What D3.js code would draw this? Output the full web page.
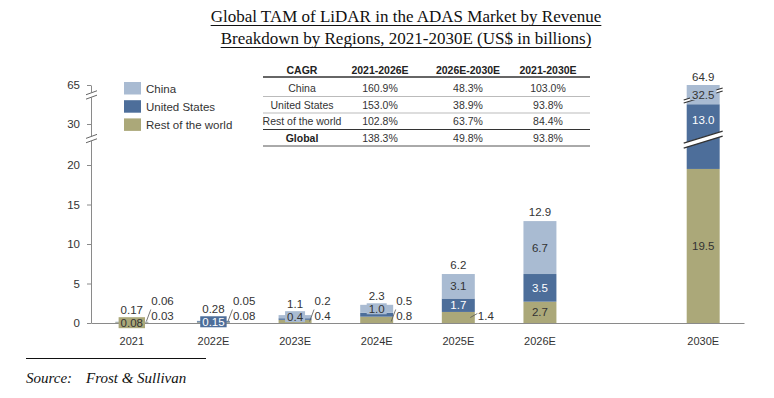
<!DOCTYPE html>
<html>
<head>
<meta charset="utf-8">
<script src="https://cdn.jsdelivr.net/npm/d3@7"></script>
<style>
body{margin:0;background:#fff;}
text{font-family:"Liberation Sans",Arial,sans-serif;fill:#333;}
</style>
</head>
<body>
<div id="chart-area"></div>
<script>
var years = ["2021","2022E","2023E","2024E","2025E","2026E","2030E"];
var china = [0.06,0.05,0.4,1.0,3.1,6.7,32.5];
var unitedStates = [0.03,0.15,0.2,0.5,1.7,3.5,13.0];
var restOfWorld = [0.08,0.08,0.4,0.8,1.4,2.7,19.5];
var totals = [0.17,0.28,1.1,2.3,6.2,12.9,64.9];
var yTicks = [0,5,10,15,20,30,65];
var labelFormat = ["0.00","0.00","0.0","0.0","0.0","0.0","0.0"];
var upperOutside = ["China","China","United States","United States",null,null,null];
var lowerOutside = ["United States","Rest of the world","Rest of the world","Rest of the world","Rest of the world",null,null];

var cagrHeader = ["CAGR","2021-2026E","2026E-2030E","2021-2030E"];
var cagrRegions = ["China","United States","Rest of the world","Global"];
var cagr2126 = ["160.9%","153.0%","102.8%","138.3%"];
var cagr2630 = ["48.3%","38.9%","63.7%","49.8%"];
var cagr2130 = ["103.0%","93.8%","84.4%","93.8%"];

var keys = ["Rest of the world","United States","China"];
var legendKeys = ["China","United States","Rest of the world"];

var width = 774, height = 398;
var svg = d3.select("#chart-area").append("svg")
	.attr("width", width)
	.attr("height", height);

var slots = years.slice(0,6).concat([""], years.slice(6));
var x = d3.scaleBand()
	.domain(slots)
	.range([91,744])
	.paddingInner(0.596)
	.paddingOuter(0.298);
var bw = x.bandwidth();

// broken axis: 0-23, 28.5-33.3, 64-65
var y = d3.scaleLinear()
	.domain([0,23,28.5,33.3,64,65])
	.range([323,141.3,135.85,97.9,92,85]);
var lowBreak = 28.5, highBreak = 33.3;

var colors = d3.scaleOrdinal()
	.domain(keys)
	.range(["#aba879","#4d6e9a","#a9bbd2"]);

var data = years.map((d,i)=>{
	var row = {year:d, i:i, total:totals[i]};
	row["China"] = china[i];
	row["United States"] = unitedStates[i];
	row["Rest of the world"] = restOfWorld[i];
	return row;
});
var series = d3.stack().keys(keys)(data);

// title
var title = ["Global TAM of LiDAR in the ADAS Market by Revenue","Breakdown by Regions, 2021-2030E (US$ in billions)"];
title.forEach((t,i)=>{
	var tx = svg.append("text")
		.attr("x",406)
		.attr("y",22+i*22)
		.attr("text-anchor","middle")
		.style("font-family","'Liberation Serif','Times New Roman',serif")
		.style("font-size","17px")
		.style("fill","#111")
		.text(t);
	var w = tx.node().getComputedTextLength();
	svg.append("line")
		.attr("x1",406-w/2).attr("x2",406+w/2)
		.attr("y1",25.5+i*22).attr("y2",25.5+i*22)
		.attr("stroke","#111").attr("stroke-width",1);
});

// axes
var xAxis = d3.axisBottom(x)
	.tickValues(years)
	.tickSize(0)
	.tickSizeOuter(0)
	.tickPadding(14);
var gx = svg.append("g")
	.attr("transform","translate(0,"+y(0)+")")
	.call(xAxis);
gx.select(".domain").attr("stroke","#8a8a8a");
gx.selectAll("text").style("font-size","11px").style("fill","#333").style("font-family","'Liberation Sans',Arial,sans-serif");

var yAxis = d3.axisLeft(y)
	.tickValues(yTicks)
	.tickSize(4)
	.tickSizeOuter(0)
	.tickPadding(7);
var gy = svg.append("g")
	.attr("transform","translate(91,0)")
	.call(yAxis);
gy.select(".domain").attr("stroke","#8a8a8a");
gy.selectAll(".tick line").attr("stroke","#8a8a8a");
gy.selectAll("text").style("font-size","11.5px").style("fill","#333").style("font-family","'Liberation Sans',Arial,sans-serif");

// bars
var layers = svg.selectAll("g.layer").data(series).enter()
	.append("g").attr("class","layer")
	.attr("fill",(d)=>colors(d.key));
layers.selectAll("rect").data((d)=>d).enter()
	.append("rect")
	.attr("x",(d)=>x(d.data.year))
	.attr("y",(d)=>y(d[1]))
	.attr("width",bw)
	.attr("height",(d)=>y(d[0])-y(d[1]));

function axisBreak(yb){
	svg.append("rect").attr("x",88).attr("y",yb-2.5).attr("width",6).attr("height",5).attr("fill","#fff");
	[-2.2,2.2].forEach((o)=>{
		svg.append("line")
			.attr("x1",86).attr("y1",yb+o+2)
			.attr("x2",97).attr("y2",yb+o-2)
			.attr("stroke","#666").attr("stroke-width",1);
	});
}
axisBreak((y(23)+y(lowBreak))/2);
axisBreak((y(highBreak)+y(64))/2);

function barBreak(xc,yb,gap){
	var x0 = xc-bw/2-3, x1 = xc+bw/2+3, s = 6;
	svg.append("path")
		.attr("d","M"+x0+","+(yb+s-gap/2)+"L"+x1+","+(yb-s-gap/2)+"L"+x1+","+(yb-s+gap/2)+"L"+x0+","+(yb+s+gap/2)+"Z")
		.attr("fill","#fff");
	[-gap/2,gap/2].forEach((o)=>{
		svg.append("line")
			.attr("x1",x0).attr("y1",yb+s+o)
			.attr("x2",x1).attr("y2",yb-s+o)
			.attr("stroke","#333").attr("stroke-width",1.2);
	});
}
var lastX = x("2030E")+bw/2;
barBreak(lastX,(y(23)+y(lowBreak))/2+1,5);
barBreak(lastX,(y(highBreak)+y(64))/2+0.5,3);

// segment labels
var labelSize = 11.5;
var boxMid = [];
series.forEach((s)=>{
	s.forEach((d)=>{
		var i = d.data.i;
		var key = s.key;
		var fmt = d3.format(labelFormat[i].length>3 ? ".2f" : ".1f");
		var txt = fmt(d.data[key]);
		var cx = x(d.data.year)+bw/2;
		if (upperOutside[i]===key || lowerOutside[i]===key){
			var ly = upperOutside[i]===key ? y(0)-22 : y(0)-7.5;
			svg.append("text")
				.attr("x",cx+19.5).attr("y",ly).attr("dy","0.35em")
				.style("font-size",labelSize+"px")
				.text(txt);
			return;
		}
		var top = y(d[1]);
		var bottom = (d[0]<lowBreak && d[1]>lowBreak) ? y(lowBreak) : y(d[0]);
		var mid = (top+bottom)/2;
		var needBox = (bottom-top<14) || d[1]>highBreak;
		if (bottom-top<14) boxMid[i] = mid;
		var t = svg.append("text")
			.attr("x",cx).attr("y",mid).attr("dy","0.35em")
			.attr("text-anchor","middle")
			.style("font-size",labelSize+"px")
			.style("fill",key==="United States" ? "#fff" : "#333")
			.text(txt);
		if (needBox){
			var w = t.node().getComputedTextLength();
			svg.insert("rect",function(){return t.node();})
				.attr("x",cx-w/2-2).attr("y",mid-5.5)
				.attr("width",w+4).attr("height",11)
				.attr("fill",colors(key));
		}
	});
});

// leader lines for outside labels
data.forEach((d,i)=>{
	var cx = x(d.year)+bw/2;
	if (upperOutside[i]){
		svg.append("line")
			.attr("x1",cx+14.5).attr("y1",y(0)-1.5)
			.attr("x2",cx+19).attr("y2",y(0)-13.5)
			.attr("stroke","#555").attr("stroke-width",0.8);
	} else if (lowerOutside[i]){
		svg.append("line")
			.attr("x1",cx+12).attr("y1",y(0)-5.5)
			.attr("x2",cx+19).attr("y2",y(0)-9.5)
			.attr("stroke","#555").attr("stroke-width",0.8);
	}
});

// totals
data.forEach((d,i)=>{
	var cx = x(d.year)+bw/2;
	var by = y(d.total)-5;
	if (boxMid[i]!==undefined) by = Math.min(by, boxMid[i]-9);
	svg.append("text")
		.attr("x",cx).attr("y",by)
		.attr("text-anchor","middle")
		.style("font-size","11.5px")
		.text(d3.format(labelFormat[i].length>3 ? ".2f" : ".1f")(d.total));
});

// legend
var legend = svg.selectAll("g.legend").data(legendKeys).enter()
	.append("g").attr("class","legend")
	.attr("transform",(d,i)=>"translate(124,"+(82+i*18.2)+")");
legend.append("rect")
	.attr("width",17).attr("height",12.5)
	.attr("fill",(d)=>colors(d));
legend.append("text")
	.attr("x",22).attr("y",6.5).attr("dy","0.35em")
	.style("font-size","11.5px")
	.text((d)=>d);

// CAGR table
var colX = [302,380,468,548];
var cols = [cagrRegions,cagr2126,cagr2630,cagr2130];
var rowY = [88,105,121.5,138];
cagrHeader.forEach((h,j)=>{
	svg.append("text")
		.attr("x",colX[j]).attr("y",70).attr("dy","0.35em")
		.attr("text-anchor","middle")
		.style("font-size","10.5px").style("font-weight","bold")
		.style("fill","#222")
		.text(h);
});
cols.forEach((c,j)=>{
	c.forEach((v,r)=>{
		svg.append("text")
			.attr("x",colX[j]).attr("y",rowY[r]).attr("dy","0.35em")
			.attr("text-anchor","middle")
			.style("font-size","10.5px")
			.style("font-weight",(j===0 && r===3) ? "bold" : "normal")
			.style("fill",(j===0 && r===3) ? "#222" : "#333")
			.text(v);
	});
});
var rules = [[77,"#333",1.3],[96.5,"#aaa",0.8],[113,"#aaa",0.8],[129.5,"#333",1.2],[146,"#555",1]];
rules.forEach((r)=>{
	svg.append("line")
		.attr("x1",263).attr("x2",590)
		.attr("y1",r[0]).attr("y2",r[0])
		.attr("stroke",r[1]).attr("stroke-width",r[2]);
});

// source
svg.append("line")
	.attr("x1",26).attr("x2",206)
	.attr("y1",358.5).attr("y2",358.5)
	.attr("stroke","#111").attr("stroke-width",1);
var src = svg.append("text")
	.attr("x",26).attr("y",383)
	.style("font-family","'Liberation Serif','Times New Roman',serif")
	.style("font-style","italic")
	.style("font-size","15px")
	.style("fill","#111");
src.append("tspan").text("Source:");
src.append("tspan").attr("x",86).text("Frost & Sullivan");
</script>
</body>
</html>
